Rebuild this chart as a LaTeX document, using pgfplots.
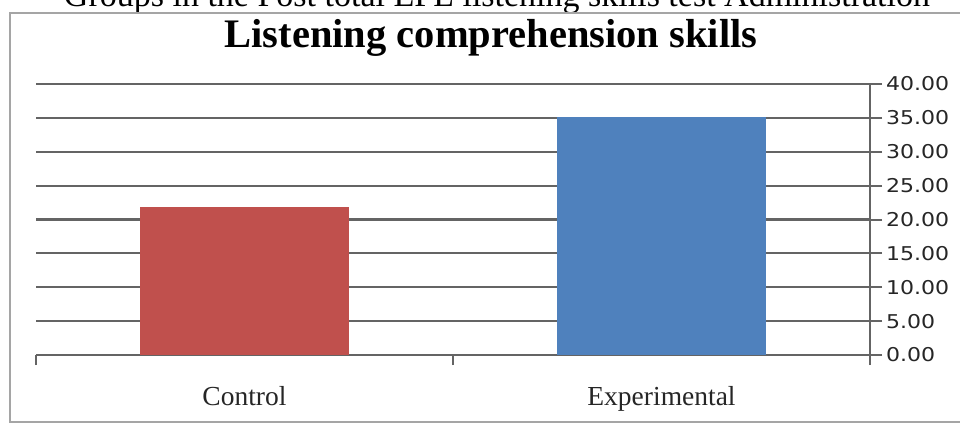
\documentclass[border=0pt]{standalone}
\usepackage{fontspec}
\setmainfont{Liberation Serif}
\newfontfamily\dsans{DejaVu Sans}
\usepackage{pgfplots}
\pgfplotsset{compat=1.18}
\definecolor{gridgray}{RGB}{100,100,100}
\definecolor{framegray}{RGB}{165,165,165}
\definecolor{barred}{HTML}{C0504D}
\definecolor{barblue}{HTML}{4F81BD}
\begin{document}
\begin{tikzpicture}[x=1pt,y=1pt]
\useasboundingbox (0,0) rectangle (960,424);
\fill[white] (0,0) rectangle (960,424);
\node[anchor=base, inner sep=0pt, font=\fontsize{34}{40}\selectfont] at (497,417) {Groups in the Post total EFL listening skills test Administration};
\draw[framegray, line width=2pt] (975,2) -- (10,2) -- (10,411) -- (975,411);
\node[anchor=base, inner sep=0pt, font=\bfseries\fontsize{40.5}{46}\selectfont] at (491,376) {Listening comprehension skills};
\begin{axis}[
  at={(36pt,69pt)}, anchor=south west,
  scale only axis, width=834pt, height=271pt,
  xmin=-0.5, xmax=1.5, ymin=0, ymax=40,
  axis x line*=bottom, axis y line*=right,
  axis line style={draw=gridgray, line width=2.2pt},
  xtick={0,1}, xticklabels={Control,Experimental},
  xtick style={draw=none},
  xticklabel style={anchor=base, yshift=-38pt, font=\fontsize{27.5}{32}\selectfont, text=black!85},
  extra x ticks={-0.5,0.5,1.5}, extra x tick labels={},
  extra x tick style={xtick style={draw=gridgray, line width=2pt}, major tick length=10pt, tick align=outside, xmajorgrids=false},
  ytick={0,5,...,40},
  ytick style={draw=gridgray, line width=2pt},
  major tick length=12pt, tick align=outside,
  ymajorgrids, grid style={draw=gridgray, line width=2.2pt},
  /pgf/number format/assume math mode=true,
  yticklabel style={/pgf/number format/fixed, /pgf/number format/precision=2, /pgf/number format/fixed zerofill, font=\dsans\fontsize{19}{22}\selectfont, xscale=1.16, anchor=west, text=black!85},
  ybar, bar width=0.5, bar shift=0pt,
]
\addplot[fill=barred, draw=none] coordinates {(0,21.9)};
\addplot[fill=barblue, draw=none] coordinates {(1,35.2)};
\end{axis}
\end{tikzpicture}
\end{document}
